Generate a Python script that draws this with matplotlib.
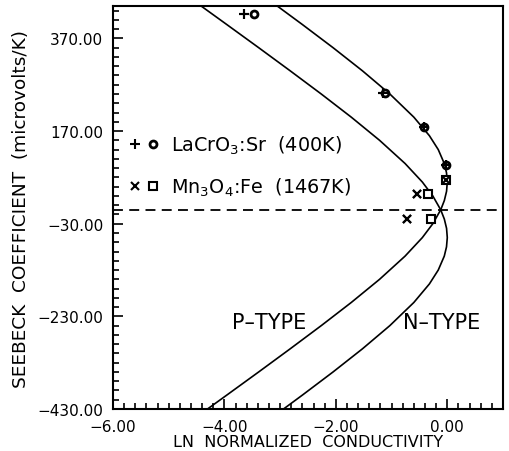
import matplotlib
matplotlib.use("Agg")
import matplotlib.pyplot as plt
from matplotlib.ticker import MultipleLocator, FixedLocator, FuncFormatter
from matplotlib.legend_handler import HandlerTuple

plt.rcParams['font.family'] = ['DejaVu Sans']
plt.rcParams['mathtext.default'] = 'regular'

# ---- data ----
p_type_S = [450, 400, 350, 300, 250, 200, 160, 130, 100, 80, 60, 40, 20, 0,
            -30, -60, -100, -150, -200, -250, -300, -350, -400, -450]
p_type_lnsigma = [-3.165, -2.601, -2.050, -1.522, -1.031, -0.600, -0.321, -0.162,
                  -0.054, -0.014, 0.000, -0.013, -0.053, -0.118, -0.260, -0.448,
                  -0.758, -1.215, -1.723, -2.262, -2.819, -3.385, -3.958, -4.534]
n_type_S = [-450, -400, -350, -300, -250, -200, -160, -130, -100, -80, -60, -40, -20, 0,
            30, 60, 100, 150, 200, 250, 300, 350, 400, 450]
n_type_lnsigma = [-3.165, -2.601, -2.050, -1.522, -1.031, -0.600, -0.321, -0.162,
                  -0.054, -0.014, 0.000, -0.013, -0.053, -0.118, -0.260, -0.448,
                  -0.758, -1.215, -1.723, -2.262, -2.819, -3.385, -3.958, -4.534]

lacro3_plus_x = [-3.65, -1.16, -0.41, -0.02]
lacro3_plus_S = [422, 252, 178, 96]
lacro3_circ_x = [-3.475, -1.12, -0.41, -0.02]
lacro3_circ_S = [422, 252, 178, 96]

mn3o4_x_x = [-0.55, -0.73, -0.02]
mn3o4_x_S = [34, -19, 64]
mn3o4_sq_x = [-0.34, -0.30, -0.02]
mn3o4_sq_S = [34, -19, 64]

x_ticks = [-6, -4, -2, 0]
y_ticks = [-430, -230, -30, 170, 370]

# ---- figure ----
fig = plt.figure(figsize=(5.10, 4.52), dpi=100)
ax = fig.add_axes([113/510, 1 - 410/452, 390/510, 403/452])

ax.plot(p_type_lnsigma, p_type_S, color='black', lw=1.2)
ax.plot(n_type_lnsigma, n_type_S, color='black', lw=1.2)
ax.axhline(0, color='black', lw=1.3, ls=(0, (5.5, 3.5)))

h_plus, = ax.plot(lacro3_plus_x, lacro3_plus_S, ls='none', marker='+', ms=7,
                  mew=1.5, color='black')
h_circ, = ax.plot(lacro3_circ_x, lacro3_circ_S, ls='none', marker='o', ms=5,
                  mew=2.0, mfc='white', mec='black')
h_x, = ax.plot(mn3o4_x_x, mn3o4_x_S, ls='none', marker='x', ms=5.5, mew=1.5,
               color='black')
h_sq, = ax.plot(mn3o4_sq_x, mn3o4_sq_S, ls='none', marker='s', ms=5.5, mew=1.5,
                mfc='white', mec='black')
# crosses drawn again on top so that overlapping symbols look solid
ax.plot(lacro3_plus_x, lacro3_plus_S, ls='none', marker='+', ms=7, mew=1.5,
        color='black')
ax.plot(mn3o4_x_x, mn3o4_x_S, ls='none', marker='x', ms=5.5, mew=1.5,
        color='black')

leg = ax.legend([(h_plus, h_circ), (h_x, h_sq)],
                ['LaCrO$_3$:Sr  (400K)', 'Mn$_3$O$_4$:Fe  (1467K)'],
                handler_map={tuple: HandlerTuple(ndivide=None, pad=0.0)},
                loc='upper left', bbox_to_anchor=(0.033, 0.683),
                frameon=False, fontsize=13.8, handlelength=1.88,
                handletextpad=0.5, labelspacing=1.0, borderpad=0,
                borderaxespad=0)

ax.text(-3.19, -243, 'P–TYPE', fontsize=15, ha='center', va='center')
ax.text(-0.11, -243, 'N–TYPE', fontsize=15, ha='center', va='center')

ax.set_xlim(-6, 1)
ax.set_ylim(-430, 440)
fmt = FuncFormatter(lambda v, p: ('%.2f' % v).replace('-', '\u2212'))
ax.xaxis.set_major_locator(FixedLocator(x_ticks))
ax.yaxis.set_major_locator(FixedLocator(y_ticks))
ax.xaxis.set_minor_locator(MultipleLocator(0.2))
ax.yaxis.set_minor_locator(FixedLocator(list(range(-430, 441, 20))))
ax.xaxis.set_major_formatter(fmt)
ax.yaxis.set_major_formatter(fmt)
ax.tick_params(which='both', direction='in', top=False, right=False,
               width=1.2, labelsize=11, pad=7)
ax.tick_params(which='major', length=7)
ax.tick_params(which='minor', length=4)
for s in ax.spines.values():
    s.set_linewidth(1.5)

ax.set_xlabel('LN  NORMALIZED  CONDUCTIVITY', fontsize=11.5, labelpad=0)
ax.set_ylabel('SEEBECK  COEFFICIENT  (microvolts/K)', fontsize=13.3, labelpad=5)

fig.savefig('out.png', dpi=100)
